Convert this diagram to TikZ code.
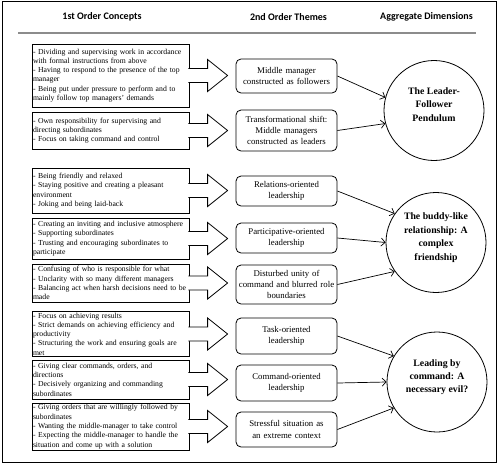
\documentclass[tikz,border=0pt]{standalone}
\usepackage{fontspec}
\setmainfont{Liberation Serif}
\newfontfamily\headfont{Carlito}
\usetikzlibrary{arrows.meta,calc}

\begin{document}
\begin{tikzpicture}[x=1pt,y=-1pt,
   blockarrow/.style={draw=black,fill=white,line width=0.8pt,line join=miter,
     to path={($(\tikztostart.east)+(-1pt,7pt)$)
       -- ($(\tikztostart.east -| \tikztotarget.west)+(-28pt,7pt)$) -- ++(0pt,9pt)
       -- ($(\tikztostart.east -| \tikztotarget.west)+(-8pt,0pt)$)
       -- ($(\tikztostart.east -| \tikztotarget.west)+(-28pt,-16pt)$) -- ++(0pt,9pt)
       -- ($(\tikztostart.east)+(-1pt,-7pt)$)}}]
   \useasboundingbox (0,0) rectangle (500,464);
   \draw[line width=0.9pt] (2,1.5) rectangle (496.5,462.5);
   \draw[line width=1.6pt,black!45] (18,33) -- (476,33);
   \begin{scope}[every node/.style={font=\headfont\bfseries\fontsize{10}{12}\selectfont}]
    \node (h1) at (102,17) {1st Order Concepts};
    \node (h2) at (288.5,17) {2nd Order Themes};
    \node (h3) at (426.5,17) {Aggregate Dimensions};
   \end{scope}
   \begin{scope}[every node/.style={draw=black,line width=0.8pt,minimum width=157pt,
       text width=155pt,inner sep=1pt,align=left,font=\fontsize{7.7}{9.3}\selectfont}]
    \node[minimum height=63pt] (c1) at (110.5,75.5) {- Dividing and supervising work in accordance\\with formal instructions from above\\- Having to respond to the presence of the top\\manager\\- Being put under pressure to perform and to\\mainly follow top managers’ demands};
    \node[minimum height=37pt] (c2) at (110.5,130.5) {- Own responsibility for supervising and\\directing subordinates\\- Focus on taking command and control};
    \node[minimum height=45pt] (c3) at (110.5,190.5) {- Being friendly and relaxed\\- Staying positive and creating a pleasant\\environment\\- Joking and being laid-back};
    \node[minimum height=41pt] (c4) at (110.5,238.5) {- Creating an inviting and inclusive atmosphere\\- Supporting subordinates\\- Trusting and encouraging subordinates to\\participate};
    \node[minimum height=38pt] (c5) at (110.5,283) {- Confusing of who is responsible for what\\- Unclarity with so many different managers\\- Balancing act when harsh decisions need to be\\made};
    \node[minimum height=44pt] (c6) at (110.5,334) {- Focus on achieving results\\- Strict demands on achieving efficiency and\\productivity\\- Structuring the work and ensuring goals are\\met};
    \node[minimum height=39pt] (c7) at (110.5,379.5) {- Giving clear commands, orders, and\\directions\\- Decisively organizing and commanding\\subordinates};
    \node[minimum height=47pt] (c8) at (110.5,426.5) {- Giving orders that are willingly followed by\\subordinates\\- Wanting the middle-manager to take control\\- Expecting the middle-manager to handle the\\situation and come up with a solution};
   \end{scope}
   \begin{scope}[every node/.style={draw=black,line width=0.8pt,rounded corners=5pt,
       minimum width=101pt,text width=99pt,inner sep=1pt,align=center,
       font=\fontsize{8.8}{11.2}\selectfont}]
    \node[minimum height=34pt] (t1) at (286.5,76) {Middle manager\\constructed as followers};
    \node[minimum height=41pt] (t2) at (286.5,130.5) {Transformational shift:\\Middle managers\\constructed as leaders};
    \node[minimum height=30pt] (t3) at (286.5,191) {Relations-oriented\\leadership};
    \node[minimum height=30pt] (t4) at (286.5,238) {Participative-oriented\\leadership};
    \node[minimum height=39pt] (t5) at (286.5,284.5) {Disturbed unity of\\command and blurred role\\boundaries};
    \node[minimum height=36pt] (t6) at (286.5,336) {Task-oriented\\leadership};
    \node[minimum height=36pt] (t7) at (286.5,383) {Command-oriented\\leadership};
    \node[minimum height=35pt] (t8) at (286.5,429.5) {Stressful situation as\\an extreme context};
   \end{scope}
   \begin{scope}[every node/.style={circle,draw=black,line width=0.8pt,minimum size=100pt,
       inner sep=0pt,align=center,text depth=12pt,font=\fontsize{9.8}{13.4}\selectfont\bfseries}]
    \node (d1) at (434,110.5) {The Leader-\\Follower\\Pendulum};
    \node (d2) at (436,242.5) {The buddy-like\\relationship: A\\complex\\friendship};
    \node (d3) at (437,382) {Leading by\\command: A\\necessary evil?};
   \end{scope}
   \draw[blockarrow] (c1) to (t1);
   \draw[blockarrow] (c2) to (t2);
   \draw[blockarrow] (c3) to (t3);
   \draw[blockarrow] (c4) to (t4);
   \draw[blockarrow] (c5) to (t5);
   \draw[blockarrow] (c6) to (t6);
   \draw[blockarrow] (c7) to (t7);
   \draw[blockarrow] (c8) to (t8);
   \begin{scope}[line width=0.7pt,-{Straight Barb[length=4pt,width=8pt]}]
    \draw (t1.east) -- (d1.165);
    \draw (t2.east) -- (d1.195);
    \draw (t3.east) -- (d2.145);
    \draw (t4.east) -- (d2.180);
    \draw (t5.east) -- (d2.215);
    \draw (t6.east) -- (d3.149);
    \draw (t7.east) -- (d3.180);
    \draw (t8.east) -- (d3.211);
   \end{scope}
\end{tikzpicture}
\end{document}
